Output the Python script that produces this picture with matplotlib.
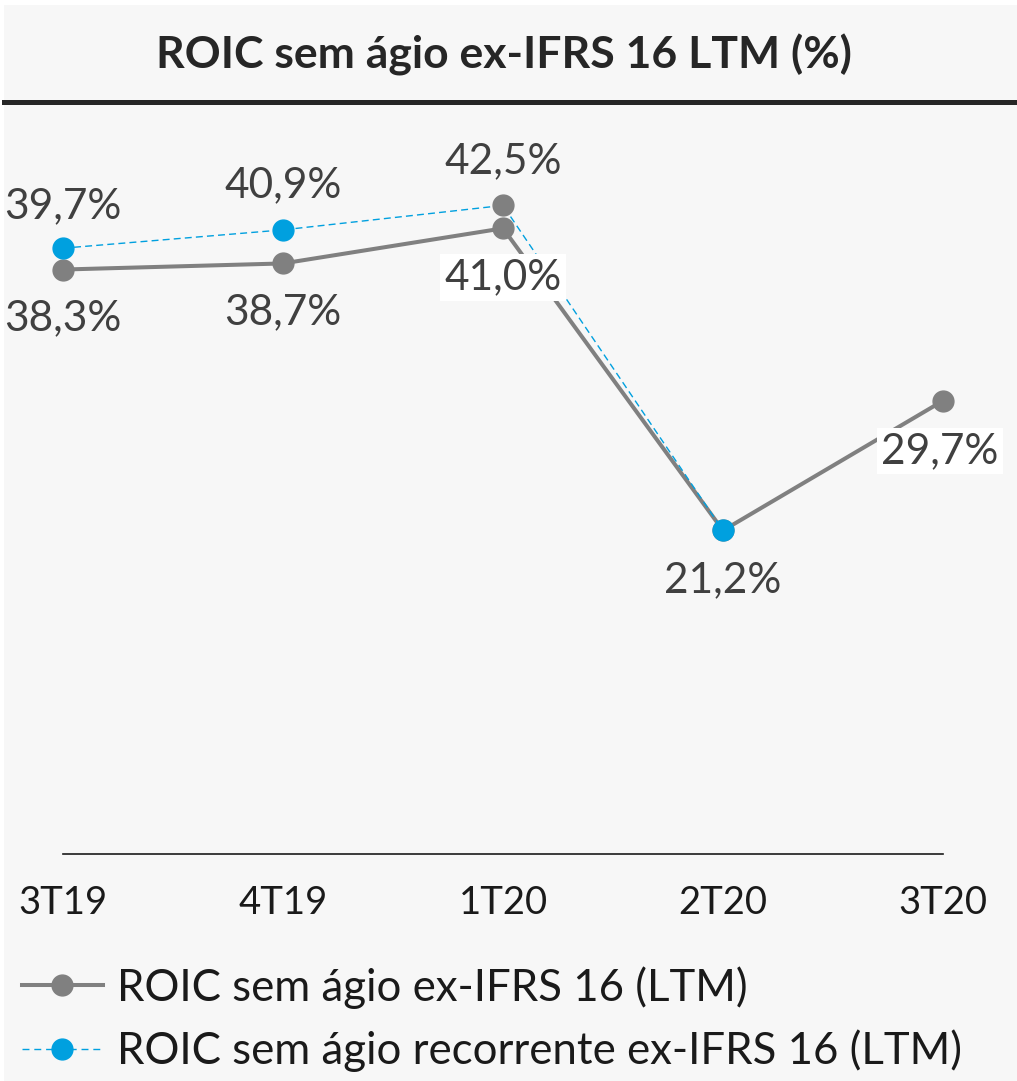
import matplotlib
matplotlib.use("Agg")
import matplotlib.pyplot as plt
from matplotlib.lines import Line2D
from matplotlib.patches import Rectangle

plt.rcParams['font.family'] = ['Lato', 'DejaVu Sans']

categories = ["3T19", "4T19", "1T20", "2T20", "3T20"]
roic = [38.3, 38.7, 41.0, 21.2, 29.7]
roic_rec = [39.7, 40.9, 42.5, 21.2]
roic_labels = ["38,3%", "38,7%", "41,0%", "21,2%", "29,7%"]
roic_rec_labels = ["39,7%", "40,9%", "42,5%", None]
title = "ROIC sem ágio ex-IFRS 16 LTM (%)"
legend_labels = ["ROIC sem ágio ex-IFRS 16 (LTM)",
                 "ROIC sem ágio recorrente ex-IFRS 16 (LTM)"]

W, H = 1017, 1081
GRAY = "#808080"
BLUE = "#00A0DF"
TXT = "#404040"

fig = plt.figure(figsize=(W / 100, H / 100), dpi=100, facecolor="white")
fig.patches.append(Rectangle((4 / W, 0), 1 - 4 / W, 1 - 5 / H, transform=fig.transFigure,
                             facecolor="#F7F7F7", edgecolor="none", zorder=-10))
fig.add_artist(Line2D([4 / W, 1], [1 - 102 / H, 1 - 102 / H], color="#262626", lw=3.6))
fig.text(504 / W, 1 - 55 / H, title, ha="center", va="center", fontsize=32,
         fontweight="bold", color="#262626")

ax = fig.add_axes([63 / W, (H - 854) / H, 880 / W, 763 / H])
ax.set_facecolor("none")
x = list(range(len(categories)))
ax.plot(x, roic, color=GRAY, lw=2.9, marker="o", ms=15, mfc=GRAY, mec=GRAY,
        clip_on=False, zorder=3)
xr = x[:len(roic_rec)]
ax.plot(xr, roic_rec, color=BLUE, lw=1.0, ls=(0, (5, 3)), clip_on=False, zorder=4)
rec_colors = [BLUE, BLUE, GRAY, BLUE]
for xi, yi, c in zip(xr, roic_rec, rec_colors):
    ax.plot([xi], [yi], marker="o", ms=15, mfc=c, mec=c, ls="none", clip_on=False, zorder=5)

ax.set_xlim(0, 4)
ax.set_ylim(0, 50)
ax.set_yticks([])
ax.set_xticks(x)
ax.set_xticklabels(categories, fontsize=27.5, color="#1a1a1a")
ax.tick_params(axis="x", length=0, pad=22)
for s in ["top", "left", "right"]:
    ax.spines[s].set_visible(False)
ax.spines["bottom"].set_color("#1a1a1a")
ax.spines["bottom"].set_linewidth(1.2)

# label offsets in pixels (dx, dy)
g_off = [(0, -49), (0, -49), (0, -49), (0, -50), (-3, -50)]
g_box = [False, False, True, False, True]
for xi, yi, lab, (dx, dy), bx in zip(x, roic, roic_labels, g_off, g_box):
    kw = {}
    if bx:
        kw["bbox"] = dict(boxstyle="square,pad=0.1", facecolor="white", edgecolor="none")
    ax.annotate(lab, (xi, yi), xytext=(dx, dy), textcoords="offset pixels",
                ha="center", va="center", fontsize=30.5, color=TXT, zorder=6,
                annotation_clip=False, **kw)
b_off = [(0, 42), (0, 45), (0, 44)]
for xi, yi, lab, (dx, dy) in zip(xr, roic_rec, roic_rec_labels, b_off + [(0, 0)]):
    if lab is None:
        continue
    ax.annotate(lab, (xi, yi), xytext=(dx, dy), textcoords="offset pixels",
                ha="center", va="center", fontsize=30.5, color=TXT, zorder=6,
                annotation_clip=False)

h1 = Line2D([], [], color=GRAY, lw=2.9, marker="o", ms=15, mfc=GRAY, mec=GRAY)
h2 = Line2D([], [], color=BLUE, lw=1.0, ls=(0, (5, 3.5)), marker="o", ms=15, mfc=BLUE, mec=BLUE)
fig.legend([h1, h2], legend_labels, loc="upper left", bbox_to_anchor=(22 / W, 1 - 966 / H),
           frameon=False, handlelength=1.84, handletextpad=0.34,
           labelspacing=0.48, borderpad=0, borderaxespad=0, labelcolor="#1a1a1a",
           prop={"size": 31.5})

fig.savefig("out.png", dpi=100, facecolor=fig.get_facecolor())
